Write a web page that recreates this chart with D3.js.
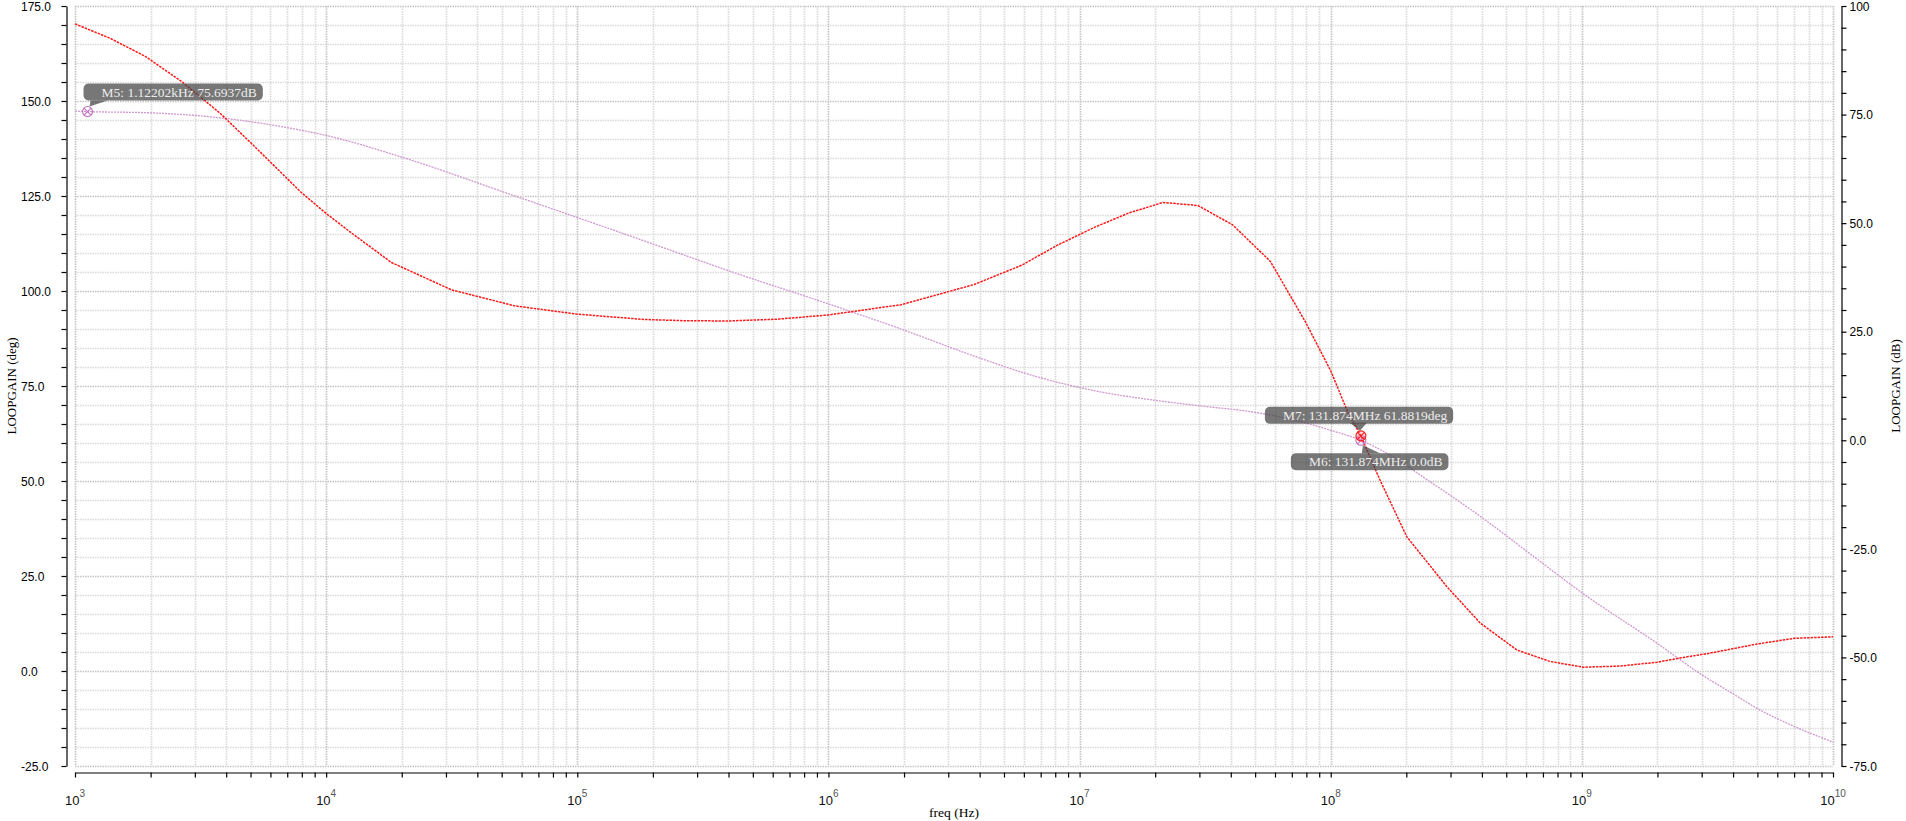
<!DOCTYPE html>
<html>
<head>
<meta charset="utf-8">
<script src="https://cdn.jsdelivr.net/npm/d3@7"></script>
<style>
  body { margin: 0; background: #ffffff; }
  #chart { width: 1906px; height: 821px; }
</style>
</head>
<body>
<div id="chart"></div>
<script>
// LOOPGAIN phase, left axis (deg)
const phaseFreq = [1e3, 1.38e3, 1.91e3, 2.66e3, 3.78e3, 5.01e3, 6.31e3, 7.94e3, 1e4, 1.26e4,
  1.82e4, 3.16e4, 5.62e4, 1e5, 1.86e5, 2.63e5, 3.98e5, 6.31e5, 1e6, 1.95e6,
  3.8e6, 5.89e6, 8.13e6, 1.15e7, 1.58e7, 2.15e7, 2.96e7, 4.07e7, 5.75e7, 7.94e7,
  1e8, 1.175e8, 1.31874e8, 1.57e8, 2.01e8, 2.9e8, 3.94e8, 5.52e8, 7.48e8, 1.016e9,
  1.42e9, 1.99e9, 2.45e9, 3.24e9, 4.98e9, 7.01e9, 1e10];
const phaseDeg = [170.3, 166.5, 161.7, 155.1, 146.8, 139.0, 132.5, 126.0, 120.4, 115.3,
  107.5, 100.3, 96.1, 93.9, 92.5, 92.2, 92.1, 92.6, 93.7, 96.4,
  101.7, 106.8, 112.0, 116.8, 120.6, 123.3, 122.5, 117.4, 107.8, 91.8,
  79.0, 67.8, 61.88, 50.3, 35.3, 22.2, 12.6, 5.5, 2.5, 1.0,
  1.3, 2.3, 3.4, 4.7, 7.1, 8.6, 9.0];

// LOOPGAIN magnitude, right axis (dB)
const gainFreq = [1e3, 1.122e3, 2e3, 3.98e3, 7.94e3, 1e4, 2e4, 5.62e4, 1e5, 2e5,
  3.98e5, 1e6, 1.95e6, 3.8e6, 6.61e6, 1.15e7, 2e7, 3.16e7, 4.79e7, 7.94e7,
  1e8, 1.31874e8, 1.58e8, 2.51e8, 3.98e8, 6.31e8, 1e9, 2e9, 2.95e9, 3.98e9,
  5.01e9, 7.08e9, 1e10];
const gainDb = [75.8, 75.69, 75.4, 74.1, 71.4, 70.2, 65.2, 56.3, 51.3, 45.2,
  39.1, 31.4, 25.6, 19.4, 14.8, 11.4, 9.2, 7.8, 6.6, 4.0,
  2.3, 0.0, -2.2, -9.7, -17.7, -26.4, -35.1, -46.8, -53.7, -58.3,
  -61.8, -66.0, -69.5];

// markers
const markerNames  = ['M5', 'M7', 'M6'];
const markerFreqs  = [1122.02, 131.874e6, 131.874e6];
const markerValues = [75.6937, 61.8819, 0.0];
const markerAxes   = ['right', 'left', 'right'];
const markerLabels = ['M5: 1.12202kHz 75.6937dB', 'M7: 131.874MHz 61.8819deg', 'M6: 131.874MHz 0.0dB'];

// ticks
const leftLabelValues  = [175, 150, 125, 100, 75, 50, 25, 0, -25];
const leftLabelTexts   = ['175.0', '150.0', '125.0', '100.0', '75.0', '50.0', '25.0', '0.0', '-25.0'];
const rightLabelValues = [100, 75, 50, 25, 0, -25, -50, -75];
const rightLabelTexts  = ['100', '75.0', '50.0', '25.0', '0.0', '-25.0', '-50.0', '-75.0'];
const decadeExps       = [3, 4, 5, 6, 7, 8, 9, 10];

const xLabel      = 'freq (Hz)';
const yLabelLeft  = 'LOOPGAIN (deg)';
const yLabelRight = 'LOOPGAIN (dB)';

const width  = 1906;
const height = 821;
const plot   = {left: 75, right: 1833, top: 6, bottom: 766};
const colorPhase = '#ff1a1a';
const colorGain  = '#cf98cf';
const serif = '"Liberation Serif", "DejaVu Serif", serif';
const sans  = '"Liberation Sans", Arial, sans-serif';

let svg = d3.select('#chart')
  .append('svg')
  .attr('width', width)
  .attr('height', height);

let xScale = d3.scaleLog()
  .domain([1e3, 1e10])
  .range([plot.left, plot.right]);

let yLeft = d3.scaleLinear()
  .domain([-25, 175])
  .range([plot.bottom, plot.top]);

let yRight = d3.scaleLinear()
  .domain([-75, 100])
  .range([plot.bottom, plot.top]);

// minor tick values
let xTickValues = [];
decadeExps.forEach(e => {
  if (e === 10) { xTickValues.push(1e10); return; }
  for (let m = 1; m <= 9; m++) xTickValues.push(m * Math.pow(10, e));
});
let leftTickValues  = d3.range(-25, 176, 5);
let rightTickValues = d3.range(-75, 101, 5);

// grid
let grid = svg.append('g').attr('class', 'grid');

grid.selectAll('.hgrid')
  .data(leftTickValues)
  .enter()
  .append('line')
    .attr('x1', plot.left)
    .attr('x2', plot.right)
    .attr('y1', d => Math.round(yLeft(d)) + 0.5)
    .attr('y2', d => Math.round(yLeft(d)) + 0.5)
    .style('stroke', d => d % 25 === 0 ? '#c4c4c4' : '#dadada')
    .style('stroke-width', 1.7)
    .style('stroke-dasharray', '1.5,1');

grid.selectAll('.vgrid')
  .data(xTickValues)
  .enter()
  .append('line')
    .attr('x1', d => Math.round(xScale(d)) + 0.5)
    .attr('x2', d => Math.round(xScale(d)) + 0.5)
    .attr('y1', plot.top)
    .attr('y2', plot.bottom)
    .style('stroke', d => Math.abs(Math.log10(d) % 1) < 1e-9 ? '#c4c4c4' : '#dadada')
    .style('stroke-width', 1.7)
    .style('stroke-dasharray', '1.5,1');

// curves
let gainLine = d3.line()
  .x((d, i) => xScale(gainFreq[i]))
  .y(d => yRight(d))
  .curve(d3.curveMonotoneX);

let phaseLine = d3.line()
  .x((d, i) => xScale(phaseFreq[i]))
  .y(d => yLeft(d));

svg.append('path')
  .datum(gainDb)
  .attr('d', gainLine)
  .style('fill', 'none')
  .style('stroke', colorGain)
  .style('stroke-width', 1.3)
  .style('stroke-dasharray', '2,1');

svg.append('path')
  .datum(phaseDeg)
  .attr('d', phaseLine)
  .style('fill', 'none')
  .style('stroke', colorPhase)
  .style('stroke-width', 1.5)
  .style('stroke-dasharray', '2.5,1');

// marker symbols
const markerColor = a => a === 'left' ? colorPhase : '#c070c0';
const markerX = i => xScale(markerFreqs[i]);
const markerY = i => markerAxes[i] === 'left' ? yLeft(markerValues[i]) : yRight(markerValues[i]);

let markerOrder = [0, 2, 1];
markerOrder.forEach(i => {
  let g = svg.append('g')
    .attr('transform', `translate(${markerX(i)}, ${markerY(i)})`)
    .style('stroke', markerColor(markerAxes[i]))
    .style('stroke-width', 1.1)
    .style('fill', 'none');
  g.append('circle').attr('r', 5).style('fill', markerAxes[i] === 'left' ? 'rgba(255,120,120,0.25)' : 'none');
  g.append('line').attr('x1', -3.5).attr('y1', -3.5).attr('x2', 3.5).attr('y2', 3.5);
  g.append('line').attr('x1', -3.5).attr('y1', 3.5).attr('x2', 3.5).attr('y2', -3.5);
});

// marker callouts: box offset and pointer triangle relative to the marker
const callouts = [
  {box: [-4, -28], pointer: [[3, -11], [20, -11], [2, -5]]},
  {box: [-96, -29], pointer: [[-11, -13], [6, -13], [-1, -5]]},
  {box: [-70, 13], pointer: [[1, 13], [19, 13], [2, 5]]}
];

markerNames.forEach((name, i) => {
  let c  = callouts[i];
  let px = markerX(i);
  let py = markerY(i);
  let g  = svg.append('g').attr('transform', `translate(${px}, ${py})`);

  let rect = g.append('rect');
  let text = g.append('text')
    .attr('x', c.box[0] + 18)
    .attr('y', c.box[1] + 13)
    .style('font-family', serif)
    .style('font-size', '13.5px')
    .style('fill', '#ececec')
    .text(markerLabels[i]);
  let w = text.node().getComputedTextLength() + 24;

  rect.attr('x', c.box[0])
    .attr('y', c.box[1])
    .attr('width', w)
    .attr('height', 17)
    .attr('rx', 5)
    .style('fill', 'rgba(72,72,72,0.74)');

  g.insert('path', 'text')
    .attr('d', 'M' + c.pointer.map(p => p.join(',')).join('L') + 'Z')
    .style('fill', 'rgba(72,72,72,0.74)');
});

// left axis
let axisL = svg.append('g')
  .attr('transform', 'translate(66.5, 0)')
  .call(d3.axisLeft(yLeft)
    .tickValues(leftTickValues)
    .tickSize(5)
    .tickSizeOuter(0)
    .tickFormat(d => {
      let k = leftLabelValues.indexOf(d);
      return k >= 0 ? leftLabelTexts[k] : '';
    }));

axisL.selectAll('text')
  .attr('x', 21 - 66.5)
  .attr('dy', '0.35em')
  .style('text-anchor', 'start');

// right axis
let axisR = svg.append('g')
  .attr('transform', 'translate(1841.5, 0)')
  .call(d3.axisRight(yRight)
    .tickValues(rightTickValues)
    .tickSize(5)
    .tickSizeOuter(0)
    .tickFormat(d => {
      let k = rightLabelValues.indexOf(d);
      return k >= 0 ? rightLabelTexts[k] : '';
    }));

axisR.selectAll('text')
  .attr('x', 8)
  .attr('dy', '0.35em');

// bottom axis
let axisB = svg.append('g')
  .attr('transform', 'translate(0, 772.5)')
  .call(d3.axisBottom(xScale)
    .tickValues(xTickValues)
    .tickSize(5)
    .tickSizeOuter(0)
    .tickFormat(''));

[axisL, axisR].forEach(a => a
  .style('font-family', sans)
  .style('font-size', '12px')
  .attr('font-family', null)
  .attr('font-size', null));

svg.selectAll('.domain, .tick line')
  .style('stroke', '#000')
  .style('stroke-width', 1.2);

// decade labels 10^n
let decLabels = svg.append('g')
  .style('font-family', sans)
  .style('fill', '#111');

decadeExps.forEach(e => {
  let t = decLabels.append('text')
    .attr('x', xScale(Math.pow(10, e)))
    .attr('y', 805)
    .style('text-anchor', 'middle');
  t.append('tspan').style('font-size', '13px').text('10');
  t.append('tspan').attr('dy', -8).style('font-size', '10px').style('fill', '#555').text(e);
});

// axis titles
svg.append('text')
  .attr('x', (plot.left + plot.right) / 2)
  .attr('y', 817)
  .style('text-anchor', 'middle')
  .style('font-family', serif)
  .style('font-size', '13.5px')
  .text(xLabel);

svg.append('text')
  .attr('transform', `translate(16, ${(plot.top + plot.bottom) / 2}) rotate(-90)`)
  .style('text-anchor', 'middle')
  .style('font-family', serif)
  .style('font-size', '13px')
  .text(yLabelLeft);

svg.append('text')
  .attr('transform', `translate(1900, ${(plot.top + plot.bottom) / 2}) rotate(-90)`)
  .style('text-anchor', 'middle')
  .style('font-family', serif)
  .style('font-size', '13px')
  .text(yLabelRight);
</script>
</body>
</html>
